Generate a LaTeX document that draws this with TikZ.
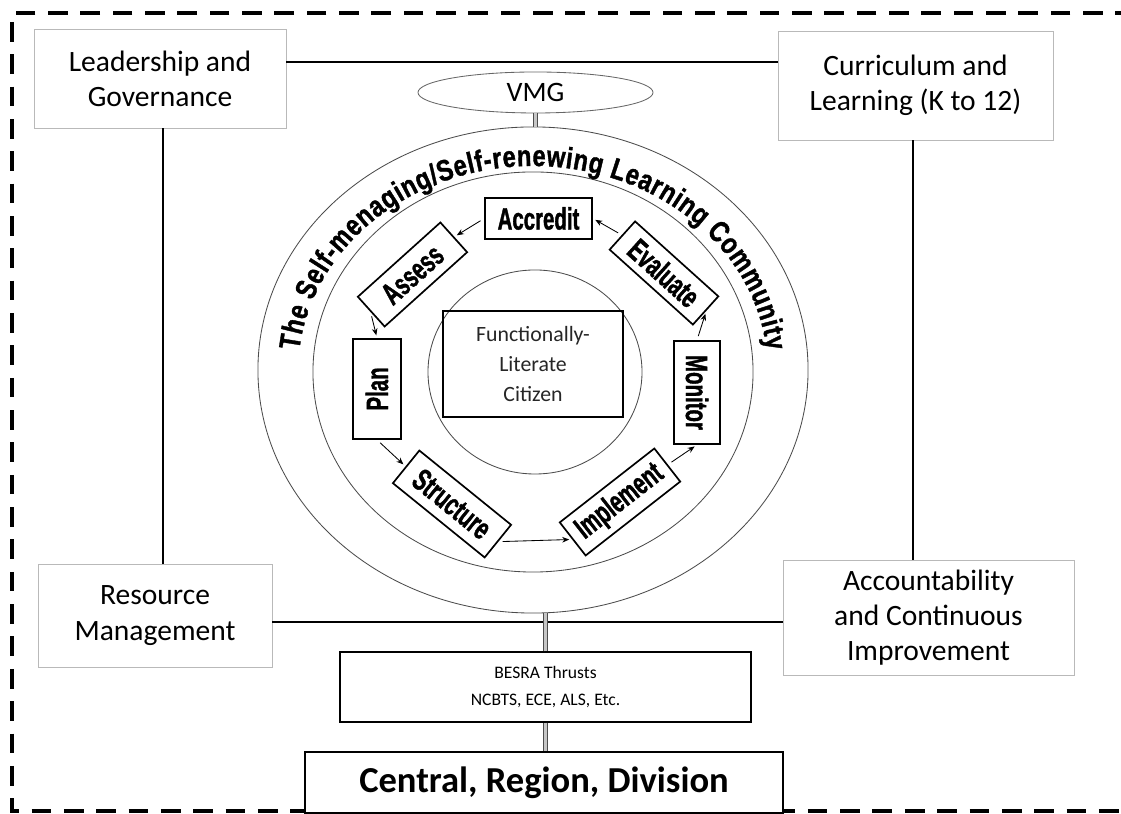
\documentclass[tikz,border=0pt]{standalone}
\usepackage{fontspec}
\setmainfont{Carlito}
\newfontfamily\stepfont[FakeStretch=0.66,FakeBold=1.2]{Liberation Sans}
\newfontfamily\ringfont[FakeStretch=0.8,FakeBold=1.2]{Liberation Sans}
\usepackage{tikz}
\usetikzlibrary{arrows.meta,shapes.geometric,decorations.text}

\begin{document}
\begin{tikzpicture}[x=0.025cm,y=0.025cm,>={Stealth[length=5pt,width=4pt]},
  area/.style={draw=gray!55,line width=0.5pt,align=center,inner sep=0pt,font=\fontsize{21}{25}\selectfont},
  ring/.style={ellipse,draw=black!70,line width=0.6pt,inner sep=0pt},
  stepbox/.style={draw,line width=1.2pt,fill=white,inner sep=0pt,font=\stepfont\bfseries\fontsize{22}{22}\selectfont},
  plain/.style={draw,line width=1pt,align=center,inner sep=0pt},
  link/.style={line width=1pt},
  bar/.style={draw=black!70,line width=0.5pt,double=gray!45,double distance=2.2pt},
  flow/.style={->,line width=0.6pt,shorten <=3pt,shorten >=2pt}]
\useasboundingbox (0,0) rectangle (1121,814);
\draw[line width=2.5pt,dash pattern=on 14pt off 9pt] (1135,801) -- (12,801) -- (12,3) -- (1135,3);
\node[area,minimum width=6.3cm,minimum height=2.475cm] (lead) at (160,735.5) {Leadership and\\Governance};
\node[area,minimum width=6.875cm,minimum height=2.725cm] (curr) at (915.5,728.5) {Curriculum and\\Learning (K to 12)};
\node[area,minimum width=5.85cm,minimum height=2.575cm] (res) at (155,198.5) {Resource\\Management};
\node[area,minimum width=7.275cm,minimum height=2.875cm] (acc) at (928.5,196.5) {Accountability\\and Continuous\\Improvement};
\coordinate (topy) at (0,752);
\coordinate (boty) at (0,192);
\coordinate (leftx) at (163,0);
\coordinate (rightx) at (913,0);
\draw[link] (lead.east |- topy) -- (curr.west |- topy);
\draw[link] (lead.south -| leftx) -- (res.north -| leftx);
\draw[link] (curr.south -| rightx) -- (acc.north -| rightx);
\draw[link] (res.east |- boty) -- (acc.west |- boty);
\node[ring,minimum width=13.75cm,minimum height=12.15cm] (outer) at (533,444) {};
\node[ring,minimum width=11cm,minimum height=10cm] (mid) at (533,442) {};
\node[ring,minimum width=5.35cm,minimum height=5.1cm] (core) at (535,442) {};
\node[plain,minimum width=4.5cm,minimum height=2.65cm,font=\fontsize{15.5}{21}\selectfont,text=black!85] (citizen) at (533,450) {Functionally-\\Literate\\Citizen};
\node[ring,draw=black!60,minimum width=5.875cm,minimum height=1.025cm,font=\fontsize{20}{20}\selectfont] (vmg) at (535.5,721.5) {VMG};
\node[plain,minimum width=10.275cm,minimum height=1.75cm,font=\fontsize{12.5}{19}\selectfont] (besra) at (545.5,127) {BESRA Thrusts\\NCBTS, ECE, ALS, Etc.};
\node[plain,fill=white,minimum width=11.95cm,minimum height=1.525cm,font=\bfseries\fontsize{26}{26}\selectfont] (central) at (544,31.5) {Central, Region, Division};
\draw[bar] (vmg.south) -- (vmg.south |- outer.north);
\draw[bar] (besra.north) -- (besra.north |- outer.south);
\draw[bar] (besra.south) -- (besra.south |- central.north);
\path[decorate,decoration={text along path,text align=fit to path,
  text={|\ringfont\bfseries\fontsize{21}{21}\selectfont|The Self-menaging/Self-renewing Learning Community}}]
  (mid.center) ++(174:235 and 206) arc[start angle=174,end angle=6,x radius=235,y radius=206];
\foreach \name/\lab/\x/\y/\rot/\w/\h in {
  accredit/Accredit/538.5/595.5/0/2.675/1.025,
  assess/Assess/412.5/539.5/42/2.775/1.0,
  evaluate/Evaluate/664/541/-42/2.8/0.95,
  plan/Plan/377/425/90/2.5/1.2,
  monitor/Monitor/697/421.5/-90/2.575/1.15,
  structure/Structure/452/310/-39/2.95/1.05,
  implement/Implement/620/312/38/3.0/1.05}
  \node[stepbox,rotate=\rot,minimum width=\w cm,minimum height=\h cm] (\name) at (\x,\y) {\lab};
\foreach \a/\b in {plan.west/structure.west,structure.east/implement.west,implement.east/monitor.east,
  monitor.west/evaluate.east,evaluate.west/accredit.east,accredit.west/assess.east,assess.west/plan.east}
  \draw[flow] (\a) -- (\b);
\end{tikzpicture}
\end{document}
